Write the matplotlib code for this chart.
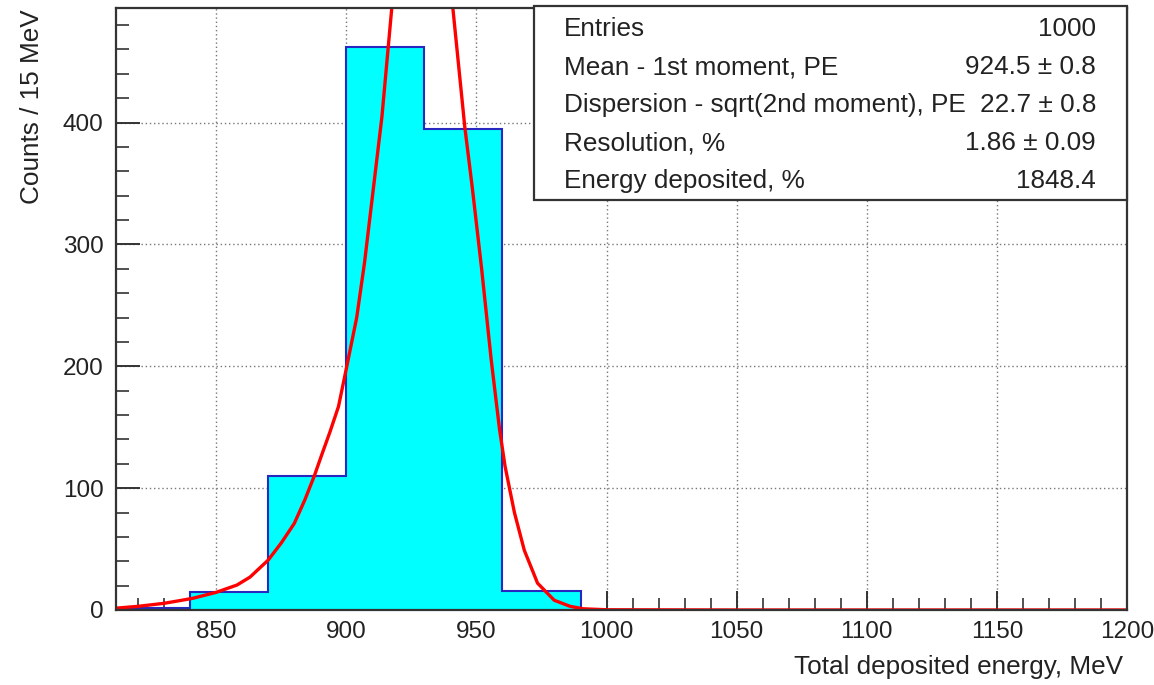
# -*- coding: utf-8 -*-
import numpy as np
import matplotlib
matplotlib.use('Agg')
import matplotlib.pyplot as plt
from matplotlib.ticker import MultipleLocator

plt.rcParams['font.family'] = ['Liberation Sans', 'DejaVu Sans']

# %%
# Histogram: 30 MeV bins from 810 to 1200
bin_edges = [810, 840, 870, 900, 930, 960, 990, 1020, 1050, 1080, 1110, 1140, 1170, 1200]
counts = [2, 15, 110, 462, 395, 16, 0, 0, 0, 0, 0, 0, 0]

# Fit curve, points (peak is clipped by the frame)
fit_x = [811.5, 820, 830, 836, 841, 850, 858, 863, 870, 875, 880, 884, 887.7,
         890.5, 893.7, 897, 900, 904, 907, 913.7, 917.6, 922, 929, 936,
         940.8, 945.5, 948.5, 952, 955.7, 958.9, 961, 964.6, 968.4, 973.5,
         979.9, 986, 991, 1000, 1050, 1100, 1150, 1200]
fit_y = [1.5, 3, 5.5, 7.7, 9.6, 14.5, 20.5, 27, 41, 55, 71, 90, 110,
         127, 146, 167, 198, 240, 285, 405, 497, 600, 650, 600,
         497, 397, 345, 280, 205, 148, 118, 80, 49, 22,
         8, 3, 1, 0.2, 0, 0, 0, 0]

# Stats box rows
stat_names = ['Entries', 'Mean - 1st moment, PE', 'Dispersion - sqrt(2nd moment), PE',
              'Resolution, %', 'Energy deposited, %']
stat_values = ['1000', '924.5 \u00b1 0.8', '22.7 \u00b1 0.8', '1.86 \u00b1 0.09', '1848.4']

# %%
W, H = 1154, 685
fig = plt.figure(figsize=(W / 100, H / 100), dpi=100)
ax = fig.add_axes([116 / W, 1 - 610 / H, (1127 - 116) / W, (610 - 8) / H])

txt = '#222222'
ax.stairs(counts, bin_edges, fill=True, color='#00ffff', zorder=2)
ax.stairs(counts, bin_edges, color='#2828c0', lw=1.5, zorder=3)
ax.plot(fit_x, fit_y, color='red', lw=2.4, zorder=4, solid_joinstyle='round')

ax.set_xlim(811.5, 1200)
ax.set_ylim(0, 494)

ax.xaxis.set_major_locator(MultipleLocator(50))
ax.xaxis.set_minor_locator(MultipleLocator(10))
ax.yaxis.set_major_locator(MultipleLocator(100))
ax.yaxis.set_minor_locator(MultipleLocator(20))

ax.grid(True, which='major', ls=(0, (1, 2)), color='#777777', lw=1.0, zorder=1)
ax.tick_params(which='both', direction='in', top=False, right=False,
               colors='#333333', labelcolor=txt, labelsize=17.5)
ax.tick_params(axis='x', which='major', length=14, width=1.4, pad=8)
ax.tick_params(axis='x', which='minor', length=9, width=1.2)
ax.tick_params(axis='y', which='major', length=17, width=1.4, pad=9)
ax.tick_params(axis='y', which='minor', length=9, width=1.2)
for s in ax.spines.values():
    s.set_color('#333333')
    s.set_linewidth(1.6)
    s.set_zorder(5)

# Axis titles, ROOT style: right / top aligned
fig.text(1123 / W, 1 - 667 / H, 'Total deposited energy, MeV', ha='right', va='center',
         fontsize=18.8, color=txt)
fig.text(32 / W, 1 - 9 / H, 'Counts / 15 MeV', ha='center', va='top', rotation=90,
         fontsize=18.8, color=txt)

# Stats box
box = plt.Rectangle((534 / W, 1 - 200 / H), (1127 - 534) / W, (200 - 6) / H,
                    transform=fig.transFigure, facecolor='white', edgecolor='#333333',
                    lw=1.6, zorder=10)
fig.patches.append(box)
row_y = [29, 67, 105, 143, 181]
for name, val, yy in zip(stat_names, stat_values, row_y):
    fig.text(564 / W, 1 - yy / H, name, ha='left', va='center', fontsize=18.8,
             color=txt, zorder=11)
    fig.text(1096 / W, 1 - yy / H, val, ha='right', va='center', fontsize=18.8,
             color=txt, zorder=11)

fig.savefig('out.png', dpi=100)
